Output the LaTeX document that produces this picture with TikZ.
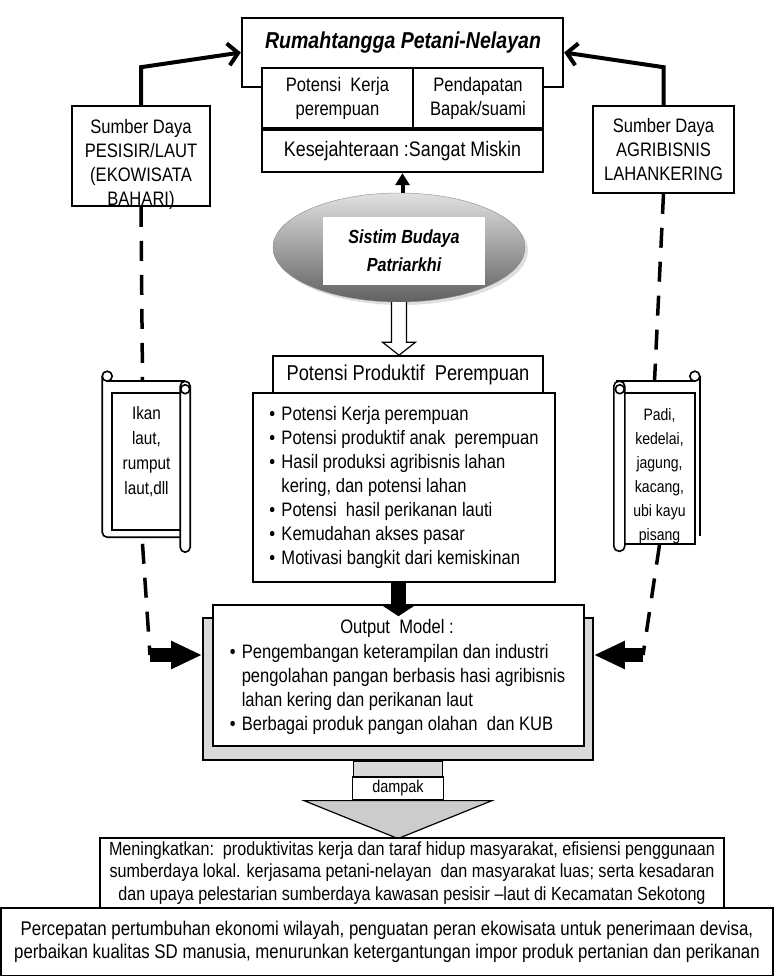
\documentclass[tikz,border=0pt]{standalone}
\usepackage{fontspec}
\setmainfont{Liberation Sans}[FakeStretch=0.85]
\usetikzlibrary{arrows.meta,calc,shapes.geometric,shadows}

\newcommand\butir{\makebox[12pt][l]{\textbullet}}

\begin{document}
\begin{tikzpicture}[x=1pt,y=-1pt,
  kotak/.style={draw, line width=1.6pt, fill=white, inner sep=0pt, align=center},
  teks/.style={font=\fontsize{19.5}{24}\selectfont},
  tebal/.style={line width=4pt},
  putus/.style={line width=3.5pt, dash pattern=on 20pt off 14pt},
  blok/.style={line width=14pt, -{Triangle[width=26pt,length=31pt]}},
  gulung/.style={draw, line width=1.6pt, fill=white},
]
\useasboundingbox (0,0) rectangle (774,976);

% Rumahtangga
\node[kotak, line width=2.4pt, minimum width=321, minimum height=69] (rumah) at (402.5,52.5) {};
\node[font=\fontsize{23}{28}\selectfont\bfseries\itshape] (judul) at (403,43) {Rumahtangga Petani-Nelayan};
\node[kotak, teks, line width=2.4pt, minimum width=151, minimum height=60] (kerja) at (337.5,98) {Potensi\ \ Kerja\\perempuan};
\node[kotak, teks, line width=2.4pt, minimum width=130, minimum height=60] (pendapatan) at (478,98) {Pendapatan\\Bapak/suami};
\node[kotak, font=\fontsize{21}{24}\selectfont, line width=2.4pt, minimum width=281, minimum height=42] (sejahtera) at (402.5,151) {Kesejahteraan :Sangat Miskin};

% Sumber daya
\node[kotak, minimum width=138, minimum height=100] (sumberL) at (141,156) {};
\node[teks, align=center] (sumberLteks) at (141,164) {Sumber Daya\\PESISIR/LAUT\\(EKOWISATA\\BAHARI)};
\node[kotak, teks, minimum width=141, minimum height=87] (sumberR) at (663.5,149.5) {Sumber Daya\\AGRIBISNIS\\LAHANKERING};

\draw[tebal, -{Straight Barb[length=10pt,width=22pt]}] (sumberL.north) -- ++(0,-38) -- (rumah.west);
\draw[tebal, -{Straight Barb[length=10pt,width=22pt]}] (sumberR.north) -- ++(0,-38) -- (rumah.east);

% Budaya
\node[ellipse, draw=black!45, minimum width=252, minimum height=109, top color=black!12, bottom color=black!62,
  drop shadow={shadow xshift=3pt, shadow yshift=-3pt, opacity=.25}] (budaya) at (399,247.5) {};
\node[fill=white, minimum width=162, minimum height=68, align=center,
  font=\fontsize{19}{28}\selectfont\bfseries\itshape] (budayateks) at (404,251) {Sistim Budaya\\Patriarkhi};
\draw[line width=4pt, -{Triangle[width=14pt,length=12pt]}] (budaya.north -| sejahtera.south) -- (sejahtera.south);

% Potensi produktif
\node[kotak, font=\fontsize{21.5}{24}\selectfont, minimum width=270, minimum height=37] (produktif) at (408,374.5) {Potensi Produktif\ \ Perempuan};
\node[kotak, teks, align=left, minimum width=302, minimum height=189] (potensi) at (404,487.5) {%
\butir Potensi Kerja perempuan\\
\butir Potensi produktif anak\ \ perempuan\\
\butir Hasil produksi agribisnis lahan\\
\hspace*{12pt}kering, dan potensi lahan\\
\butir Potensi\ \ hasil perikanan lauti\\
\butir Kemudahan akses pasar\\
\butir Motivasi bangkit dari kemiskinan};

\draw[line width=1.2pt, fill=white] ($(budaya.south)+(-7.5,0)$) -- ($(budaya.south |- produktif.north)+(-7.5,-13)$)
  -- ++(-9,0) -- (budaya.south |- produktif.north) -- ++(16.5,-13) -- ++(-9,0) -- ($(budaya.south)+(7.5,0)$);

% Gulungan kiri
\node[kotak, minimum width=69, minimum height=137] (ikan) at (146.5,461.5) {};
\node[font=\fontsize{18}{25}\selectfont, align=center] (ikanteks) at (146.5,452) {Ikan\\laut,\\rumput\\laut,dll};
\begin{scope}[shift={(ikan.north west)}]
\draw[line width=1.6pt, rounded corners=5pt] (-9,-16) -- (-9,145) -- (69,145);
\draw[line width=1.6pt] (-4,-11) -- (74,-11);
\draw[gulung, rounded corners=5pt] (69,-11) rectangle (79,160);
\draw[gulung] (-4,-16) circle (5pt);
\draw[gulung] (74,-3) circle (4.5pt);
\end{scope}

% Gulungan kanan
\node[kotak, minimum width=71, minimum height=151] (padi) at (659.5,468.5) {};
\node[font=\fontsize{16.5}{24}\selectfont, align=center] (paditeks) at (659.5,476) {Padi,\\kedelai,\\jagung,\\kacang,\\ubi kayu\\pisang};
\begin{scope}[shift={(padi.north east)}]
\draw[line width=1.6pt] (4,-16) -- (4,144);
\draw[line width=1.6pt] (-80,-11) -- (-1,-11);
\draw[gulung, rounded corners=5pt] (-82,-11) rectangle (-71,159);
\draw[gulung] (-1,-16) circle (5pt);
\draw[gulung] (-76,-3) circle (4.5pt);
\end{scope}

\draw[putus] (sumberL.south) -- ($(ikan.north)+(-4,-11)$);
\draw[putus] (sumberR.south) -- ($(padi.north)+(-5,-11)$);

% Output model
\node[draw, line width=1.6pt, fill=black!15, minimum width=390, minimum height=142] (bingkai) at (398,689) {};
\draw[line width=1.6pt, fill=black!15] ($(bingkai.south)+(-44.5,0)$) rectangle ($(bingkai.south)+(44.5,17)$);
\node[kotak, minimum width=371, minimum height=141] (keluaran) at (398.5,675.5) {};
\node[teks] (keluaranjudul) at (397,628) {Output\ \ Model :};
\node[teks, align=left] (keluaranisi) at (397.5,689) {%
\butir Pengembangan keterampilan dan industri\\
\hspace*{12pt}pengolahan pangan berbasis hasi agribisnis\\
\hspace*{12pt}lahan kering dan perikanan laut\\
\butir Berbagai produk pangan olahan\ \ dan KUB};
\draw[line width=15pt, -{Triangle[width=33pt,length=11pt]}] (potensi.south -| keluaran.north) -- ($(keluaran.north)+(0,12)$);

\coordinate (sikuL) at (150,655);
\coordinate (sikuR) at (643,655);
\draw[putus] ($(ikan.south)+(-4,13)$) -- (sikuL);
\draw[putus] (padi.south) -- (sikuR);
\draw[blok] (sikuL) -- (sikuL -| bingkai.west);
\draw[blok] (sikuR) -- (sikuR -| bingkai.east);

% Dampak
\node[kotak, font=\fontsize{17}{20}\selectfont, line width=1.2pt, minimum width=91, minimum height=23] (dampak) at (398,788.5) {dampak};
\draw[line width=1.2pt, fill=black!20] ($(dampak.south)+(-94,0)$) -- ($(dampak.south)+(94,0)$) -- ($(dampak.south)+(0,38)$) -- cycle;

\node[kotak, font=\fontsize{19}{22.5}\selectfont, minimum width=624, minimum height=70] (meningkat) at (412,873) {%
Meningkatkan:\ \ produktivitas kerja dan taraf hidup masyarakat, efisiensi penggunaan\\
sumberdaya lokal. kerjasama petani-nelayan\ \ dan masyarakat luas; serta kesadaran\\
dan upaya pelestarian sumberdaya kawasan pesisir –laut di Kecamatan Sekotong};
\node[kotak, font=\fontsize{19.8}{23}\selectfont, minimum width=772, minimum height=68] (percepatan) at (387,942) {%
Percepatan pertumbuhan ekonomi wilayah, penguatan peran ekowisata untuk penerimaan devisa,\\
perbaikan kualitas SD manusia, menurunkan ketergantungan impor produk pertanian dan perikanan};
\end{tikzpicture}
\end{document}
